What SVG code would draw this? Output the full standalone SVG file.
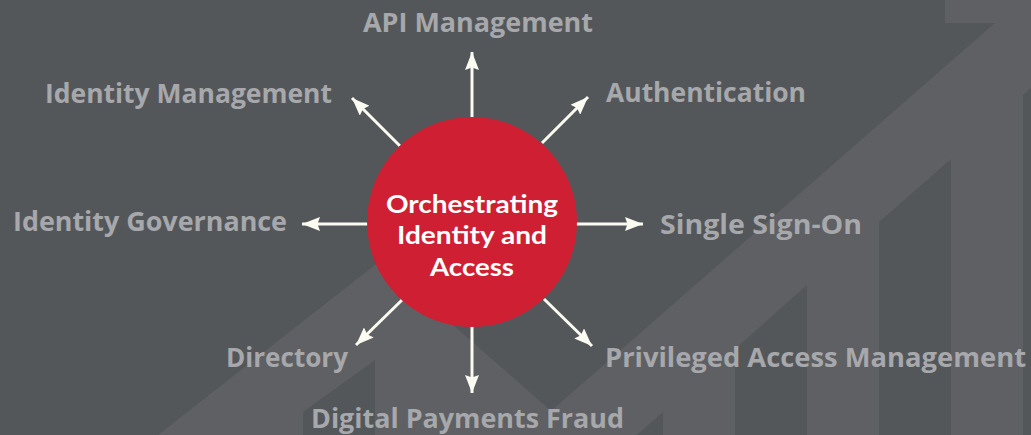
<svg xmlns="http://www.w3.org/2000/svg" width="1031" height="435" viewBox="0 0 1031 435">
  <style>
    .label { font-family: "Open Sans", "Liberation Sans", sans-serif; font-weight: 700; font-size: 26px; fill: #a7a8ab; }
    .center-text { font-family: "Lato", "Open Sans", sans-serif; font-weight: 700; font-size: 25px; fill: #ffffff; text-anchor: middle; }
    .conn { stroke: #fbfbf2; stroke-width: 3; fill: none; marker-end: url(#arrow); }
    .bg { fill: #54575a; }
    .shape { fill: #5f6063; }
  </style>
  <defs>
    <marker id="arrow" markerUnits="userSpaceOnUse" markerWidth="20" markerHeight="14" refX="18" refY="7" orient="auto">
      <path d="M0,0 L18,7 L0,14 L2.5,7 Z" fill="#fbfbf2"/>
    </marker>
  </defs>

  <!-- background -->
  <rect class="bg" x="0" y="0" width="1031" height="435"/>
  <g id="background-chart">
    <polygon class="shape" points="139,450 380,261 551,411 995,23 945,23 945,-2 1040,-2 1040,450"/>
    <polygon class="bg" points="303,412 375,360 375,440 303,440"/>
    <polygon class="bg" points="631,440 663,412 663,440"/>
    <polygon class="bg" points="735,349 807,285 807,440 735,440"/>
    <polygon class="bg" points="879,222 951,159 951,440 879,440"/>
    <polygon class="bg" points="1023,95 1040,80 1040,440 1023,440"/>
  </g>

  <!-- connectors -->
  <g id="connectors">
    <line class="conn" x1="472" y1="118" x2="472" y2="52"/>
    <line class="conn" x1="472" y1="326" x2="472" y2="393"/>
    <line class="conn" x1="368" y1="224" x2="302" y2="224"/>
    <line class="conn" x1="576" y1="224" x2="643" y2="224"/>
    <line class="conn" x1="400" y1="146" x2="352" y2="98"/>
    <line class="conn" x1="542" y1="143" x2="588" y2="97"/>
    <line class="conn" x1="402" y1="300" x2="356" y2="345"/>
    <line class="conn" x1="544" y1="299" x2="592" y2="346"/>
  </g>

  <!-- center node -->
  <g id="node-center">
    <circle cx="472" cy="222" r="105" fill="#cf1f33"/>
    <text class="center-text" x="472" y="213" textLength="172" lengthAdjust="spacingAndGlyphs">Orchestrating</text>
    <text class="center-text" x="472" y="244" textLength="150" lengthAdjust="spacingAndGlyphs">Identity and</text>
    <text class="center-text" x="472" y="276" textLength="84" lengthAdjust="spacingAndGlyphs">Access</text>
  </g>

  <!-- outer nodes -->
  <g id="node-api-management">
    <text class="label" x="363" y="32" textLength="230" lengthAdjust="spacingAndGlyphs">API Management</text>
  </g>
  <g id="node-identity-management">
    <text class="label" x="45" y="103" textLength="287" lengthAdjust="spacingAndGlyphs">Identity Management</text>
  </g>
  <g id="node-authentication">
    <text class="label" x="606" y="102" textLength="200" lengthAdjust="spacingAndGlyphs">Authentication</text>
  </g>
  <g id="node-identity-governance">
    <text class="label" x="13" y="231" textLength="274" lengthAdjust="spacingAndGlyphs">Identity Governance</text>
  </g>
  <g id="node-single-sign-on">
    <text class="label" x="660" y="234" textLength="202" lengthAdjust="spacingAndGlyphs">Single Sign-On</text>
  </g>
  <g id="node-privileged-access-management">
    <text class="label" x="605" y="367" textLength="421" lengthAdjust="spacingAndGlyphs">Privileged Access Management</text>
  </g>
  <g id="node-directory">
    <text class="label" x="226" y="367" textLength="122" lengthAdjust="spacingAndGlyphs">Directory</text>
  </g>
  <g id="node-digital-payments-fraud">
    <text class="label" x="311" y="428" textLength="313" lengthAdjust="spacingAndGlyphs">Digital Payments Fraud</text>
  </g>
</svg>
